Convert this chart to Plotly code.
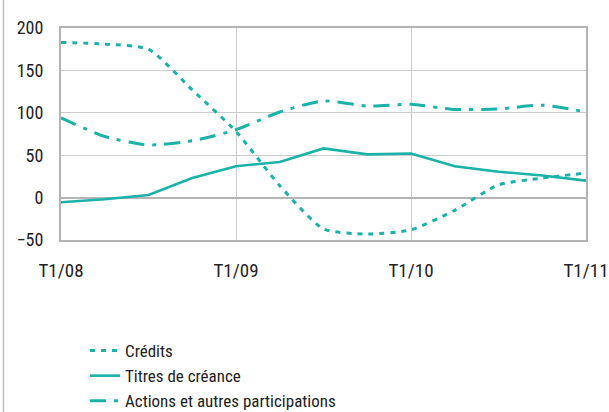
import plotly.graph_objects as go

# Quarterly flows, T1/08 .. T1/11
quarters = ["T1/08", "T2/08", "T3/08", "T4/08",
            "T1/09", "T2/09", "T3/09", "T4/09",
            "T1/10", "T2/10", "T3/10", "T4/10",
            "T1/11"]
credits = [183, 181, 175, 127, 78, 14, -37, -43, -38, -15, 15, 23, 29]
titres = [-5.5, -2, 3, 23, 37, 42, 58, 51, 52, 37, 30.5, 26, 20]
actions = [94, 72, 62, 67, 80, 101, 114, 108, 110, 104, 104.5, 109, 101]
tick_labels = ["T1/08", "T1/09", "T1/10", "T1/11"]
y_ticks = [-50, 0, 50, 100, 150, 200]

TEAL = "#1ab2a9"
FONT = "Roboto Condensed, Liberation Sans Narrow, Arial Narrow, sans-serif"
INK = "#222222"

W, H = 609, 412
L, R, T, B = 61, 23, 28, 172

fig = go.Figure()
fig.add_trace(go.Scatter(
    x=quarters, y=credits, name="Crédits", mode="lines",
    line=dict(color=TEAL, width=3, dash="5px,6px", shape="spline", smoothing=0.6),
))
fig.add_trace(go.Scatter(
    x=quarters, y=titres, name="Titres de créance", mode="lines",
    line=dict(color=TEAL, width=2.6),
))
fig.add_trace(go.Scatter(
    x=quarters, y=actions, name="Actions et autres participations", mode="lines",
    line=dict(color=TEAL, width=3, dash="16px,8px,4px,8px", shape="spline", smoothing=0.6),
))

# Left frame rule running the full height of the figure
plot_w = W - L - R
plot_h = H - T - B
fig.add_shape(type="line", xref="paper", yref="paper",
              x0=(3.5 - L) / plot_w, x1=(3.5 - L) / plot_w,
              y0=-(B + 2) / plot_h, y1=(plot_h + T + 2) / plot_h,
              line=dict(color="#bdbdbd", width=1.5))

fig.update_layout(
    width=W, height=H,
    margin=dict(l=L, r=R, t=T, b=B, autoexpand=False),
    paper_bgcolor="white", plot_bgcolor="white",
    font=dict(family=FONT, size=17, color=INK),
    showlegend=True,
    legend=dict(
        xref="container", yref="container",
        x=85 / W, y=1 - 333 / H, xanchor="left", yanchor="top",
        font=dict(family=FONT, size=17, color=INK),
        tracegroupgap=0, itemwidth=30,
        bgcolor="rgba(0,0,0,0)",
    ),
    xaxis=dict(
        type="category", range=[0, 12],
        tickmode="array", tickvals=tick_labels, ticktext=tick_labels,
        showgrid=True, gridcolor="#cccccc", gridwidth=1,
        showline=True, linecolor="#b4b4b4", linewidth=2, mirror=True,
        ticks="", tickfont=dict(size=19, color=INK),
        ticklabelstandoff=12,
        zeroline=False,
    ),
    yaxis=dict(
        range=[-50, 200], tickvals=y_ticks,
        showgrid=True, gridcolor="#cccccc", gridwidth=1,
        zeroline=True, zerolinecolor="#b4b4b4", zerolinewidth=2,
        showline=True, linecolor="#b4b4b4", linewidth=2, mirror=True,
        ticks="", tickfont=dict(size=18, color=INK),
        ticklabelstandoff=12,
    ),
)

fig.write_html("out.html")
